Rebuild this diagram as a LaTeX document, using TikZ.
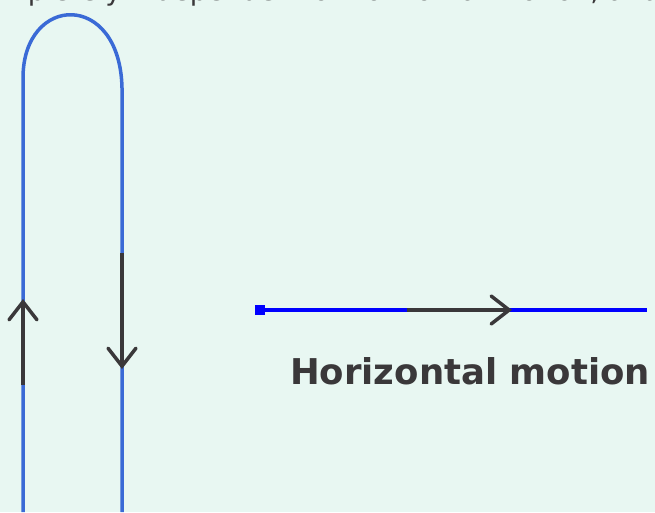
\documentclass[tikz,border=0pt]{standalone}
\usepackage{fontspec}
\setmainfont{DejaVu Sans}
\usetikzlibrary{arrows.meta}
\definecolor{bg}{HTML}{E8F7F2}
\definecolor{pathblue}{HTML}{3A6AD6}
\definecolor{ink}{HTML}{3A383A}
\tikzset{
  trajectory/.style={draw=pathblue, line width=3.5pt},
  hpath/.style={draw=blue, line width=3.5pt},
  motion/.style={draw=ink, line width=3.5pt,
    -{Straight Barb[length=18pt, width=28pt, line cap=round]}},
  caption/.style={anchor=base west, inner sep=0pt, text=ink}
}
\begin{document}
\begin{tikzpicture}[x=1pt, y=-1pt]
  \fill[bg] (0,0) rectangle (655,512);
  \useasboundingbox (0,0) rectangle (655,512);
  \clip (0,0) rectangle (655,512);

  % running text, cut by the top edge
  \node[caption, font=\fontsize{27.5}{30}\selectfont] (intro) at (-31,0.5)
    {completely independent of horizontal motion, and};

  % up-and-down path with its rounded turn
  \coordinate (leftfoot) at (23,512);
  \coordinate (leftbend) at (23,78);
  \coordinate (rightbend) at (122,88);
  \coordinate (rightfoot) at (122,512);
  \draw[trajectory] (leftfoot) -- (leftbend)
    .. controls (23,-6) and (120,-10) .. (rightbend) -- (rightfoot);

  % direction arrows on the vertical path
  \coordinate (upfrom) at (23,385);
  \coordinate (upto) at (23,299);
  \coordinate (downfrom) at (122,253);
  \coordinate (downto) at (122,369);
  \draw[motion] (upfrom) -- (upto);
  \draw[motion] (downfrom) -- (downto);

  % horizontal path with start marker
  \coordinate (hstart) at (260,310);
  \coordinate (hend) at (647,310);
  \draw[hpath] (hstart) -- (hend);
  \fill[blue] (255,305) rectangle (265,315);
  \coordinate (rightfrom) at (407,310);
  \coordinate (rightto) at (512,310);
  \draw[motion] (rightfrom) -- (rightto);

  \node[caption, font=\bfseries\fontsize{35.5}{40}\selectfont] (hlabel) at (290,384)
    {Horizontal motion};
\end{tikzpicture}
\end{document}
